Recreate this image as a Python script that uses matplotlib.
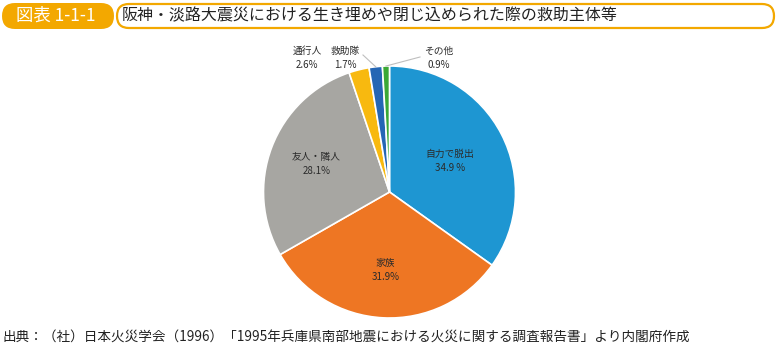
import numpy as np
import matplotlib.pyplot as plt
from matplotlib.patches import FancyBboxPatch

plt.rcParams['font.family'] = ['Noto Sans CJK JP', 'DejaVu Sans']

labels = ['自力で脱出', '家族', '友人・隣人', '通行人', '救助隊', 'その他']
values = [34.9, 31.9, 28.1, 2.6, 1.7, 0.9]
value_text = ['34.9 %', '31.9%', '28.1%', '2.6%', '1.7%', '0.9%']
colors = ['#1E96D2', '#EE7623', '#A7A6A2', '#F8B90F', '#2566B4', '#3BA936']

title_tag = '図表 1-1-1'
title = '阪神・淡路大震災における生き埋めや閉じ込められた際の救助主体等'
source = '出典：（社）日本火災学会（1996）「1995年兵庫県南部地震における火災に関する調査報告書」より内閣府作成'

W, H = 780, 350
fig = plt.figure(figsize=(7.8, 3.5), dpi=100)
ax = fig.add_axes([0, 0, 1, 1])

cx, cy, R = 389.5, H - 192, 126
wedges, _ = ax.pie(values, colors=colors, startangle=90, counterclock=False,
                   center=(cx, cy), radius=R,
                   wedgeprops=dict(edgecolor='white', linewidth=1.2))
ax.set_xlim(0, W)
ax.set_ylim(0, H)
ax.set_aspect('equal')
ax.axis('off')

# labels inside the three big slices
inner_r = [0.54, 0.62, 0.62]
for i in range(3):
    w = wedges[i]
    mid = np.deg2rad((w.theta1 + w.theta2) / 2)
    x = cx + inner_r[i] * R * np.cos(mid)
    y = cy + inner_r[i] * R * np.sin(mid)
    ax.text(x, y + 7, labels[i], ha='center', va='center', fontsize=7, color='#2b2b2b')
    ax.text(x, y - 7, value_text[i], ha='center', va='center', fontsize=7, color='#2b2b2b')

# small slices: labels above the pie
outer_x = [307, 345, 439]
for k, i in enumerate(range(3, 6)):
    x = outer_x[k]
    ax.text(x, H - 51, labels[i], ha='center', va='center', fontsize=7, color='#2b2b2b')
    ax.text(x, H - 65, value_text[i], ha='center', va='center', fontsize=7, color='#2b2b2b')

# leader lines for the two thinnest slices
for i, (lx, ly) in [(4, (363, H - 55)), (5, (420, H - 57))]:
    w = wedges[i]
    mid = np.deg2rad((w.theta1 + w.theta2) / 2)
    ex = cx + R * np.cos(mid)
    ey = cy + R * np.sin(mid)
    ax.plot([lx, ex], [ly, ey], color='#BFBFBF', lw=0.8)

# title banner
ax.add_patch(FancyBboxPatch((117, H - 28), 657, 24,
                            boxstyle='round,pad=0,rounding_size=12',
                            fc='white', ec='#F3A800', lw=1.6))
ax.add_patch(FancyBboxPatch((2, H - 29), 112, 26,
                            boxstyle='round,pad=0,rounding_size=13',
                            fc='#F3A800', ec='none'))
ax.text(56, H - 16, title_tag, ha='center', va='center', fontsize=12.5, color='white')
ax.text(122, H - 16, title, ha='left', va='center', fontsize=11.5, color='#222222')

ax.text(3, H - 338, source, ha='left', va='center', fontsize=9.8, color='#222222')

fig.savefig('out.png', dpi=100, facecolor='white')
